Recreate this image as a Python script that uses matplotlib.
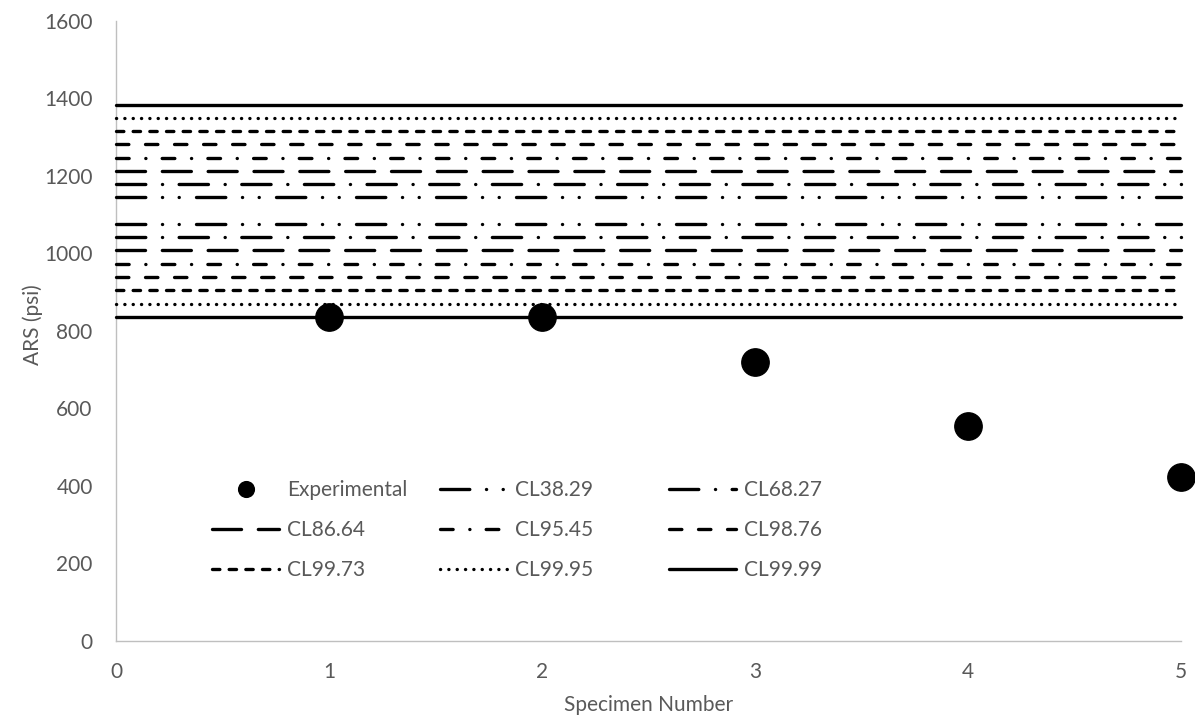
import matplotlib
matplotlib.use('Agg')
import matplotlib.pyplot as plt

plt.rcParams['font.family'] = ['Lato', 'DejaVu Sans']
plt.rcParams['lines.scale_dashes'] = False

# measured ARS per specimen
specimen = [1, 2, 3, 4, 5]
ars = [836, 836, 718, 554, 422]

# confidence limit bands (upper / lower bound for each level)
span = [0, 5]
cl_names = ['CL38.29', 'CL68.27', 'CL86.64', 'CL95.45',
            'CL98.76', 'CL99.73', 'CL99.95', 'CL99.99']
cl_upper = [1144, 1178, 1212, 1246, 1281, 1315, 1349, 1383]
cl_lower = [1075, 1041, 1007, 972, 938, 904, 870, 835]

# dash patterns in points (round caps)
dash_styles = {
    'CL38.29': (0, (21.1, 12.0, 0.1, 11.9, 0.1, 12.4)),
    'CL68.27': (0, (21.1, 12.0, 0.1, 11.9)),
    'CL86.64': (0, (20.9, 12.1)),
    'CL95.45': (0, (9.1, 12.0, 0.1, 11.7)),
    'CL98.76': (0, (8.9, 12.0)),
    'CL99.73': (0, (5.3, 6.7)),
    'CL99.95': (0, (0.1, 5.9)),
    'CL99.99': '-',
}

text_col = '#595959'
W, H = 1195, 727

fig = plt.figure(figsize=(W / 100, H / 100), dpi=100)
ax = fig.add_axes([116.3 / W, 1 - 640.7 / H, 1065 / W, 620 / H])

handles = {}
pt, = ax.plot(specimen, ars, 'o', ms=19.7, color='black', clip_on=False,
              zorder=4, label='Experimental')
handles['Experimental'] = pt

for name, up, lo in zip(cl_names, cl_upper, cl_lower):
    for v in (up, lo):
        ln, = ax.plot(span, [v, v], color='black', lw=2.4,
                      linestyle=dash_styles[name], dash_capstyle='round',
                      solid_capstyle='round', clip_on=False, zorder=3)
    handles[name] = ln

ax.set_xlim(0, 5)
ax.set_ylim(0, 1600)
ax.set_xticks(range(0, 6))
ax.set_yticks(range(0, 1601, 200))
ax.tick_params(length=0, labelsize=15, colors=text_col)
ax.tick_params(axis='x', pad=15)
ax.tick_params(axis='y', pad=17)

for s in ['top', 'right']:
    ax.spines[s].set_visible(False)
for s in ['left', 'bottom']:
    ax.spines[s].set_color('#BFBFBF')
    ax.spines[s].set_linewidth(1.0)

fig.text(648.8 / W, 1 - 711 / H, 'Specimen Number', fontsize=15,
         color=text_col, ha='center', va='baseline')
fig.text(33 / W, 1 - 325 / H, 'ARS (psi)', fontsize=15, color=text_col,
         ha='center', va='center', rotation=90)

# legend laid out as three fixed-width columns
columns = [['Experimental', 'CL86.64', 'CL99.73'],
           ['CL38.29', 'CL95.45', 'CL99.95'],
           ['CL68.27', 'CL98.76', 'CL99.99']]
col_x = [212.3, 440.3, 668.9]
for labels, x in zip(columns, col_x):
    fig.legend([handles[l] for l in labels], labels, loc='upper left',
               bbox_to_anchor=(x / W, 1 - 480 / H), frameon=False,
               borderpad=0, borderaxespad=0, handlelength=3.22,
               handletextpad=0.38, labelspacing=0.96, fontsize=15,
               markerscale=0.575, labelcolor=text_col)

fig.savefig('out.png', dpi=100)
